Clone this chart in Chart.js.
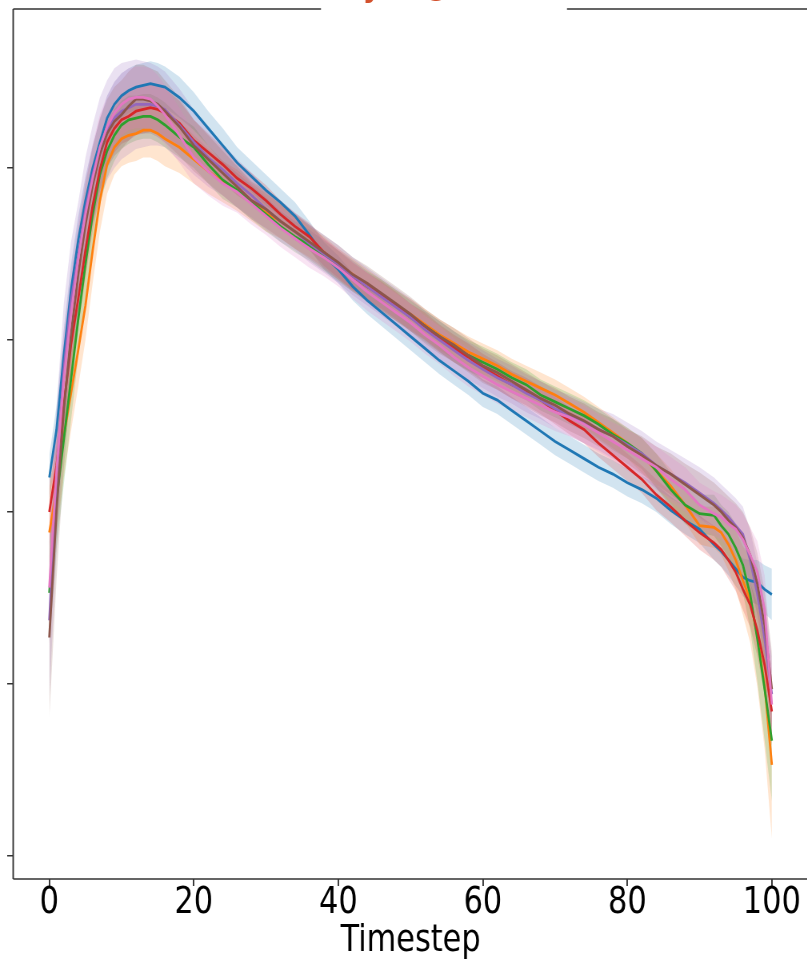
<!DOCTYPE html>
<html><head><meta charset="utf-8">
<script src="https://cdn.jsdelivr.net/npm/chart.js@4.4.1/dist/chart.umd.min.js"></script>
<style>
html,body{margin:0;padding:0;background:#fff;overflow:hidden;width:807px;height:961px;}
#wrap{position:absolute;left:0;top:0;width:1010px;height:961px;transform:scaleX(0.8);transform-origin:0 0;}
canvas{display:block;}
</style></head><body>
<div id="wrap"><canvas id="c" width="1010" height="961"></canvas></div>
<script>
const timesteps = [0,1,2,3,4,5,6,7,8,9,10,11,12,13,14,15,16,
  18,20,22,24,26,28,30,32,34,36,38,40,42,44,46,48,50,52,54,56,58,60,62,64,66,68,70,72,74,76,78,80,82,84,86,88,90,92,
  93,94,95,96,97,98,99,100];
const xTickValues = [0,20,40,60,80,100];
const yTickValues = [0,1,2,3,4];
const xLabel = 'Timestep';

const blueMean = [2.20,2.48,2.91,3.29,3.58,3.81,4.00,4.15,4.29,4.37,4.42,4.45,4.47,4.48,4.49,4.48,4.47,
  4.41,4.33,4.23,4.13,4.03,3.95,3.87,3.80,3.72,3.61, 3.49,3.41,3.31,3.23,3.16,3.09,3.02,2.95,2.88,2.82,
  2.76,2.69,2.65,2.59,2.53,2.47,2.41,2.36,2.31,2.26, 2.22,2.17,2.13,2.08,2.01,1.95,1.90,1.81,
  1.77,1.72,1.67,1.62,1.60,1.59,1.55,1.52];
const blueSd = [0.13,0.14,0.15,0.15,0.14,0.14,0.13,0.13,0.13,0.13,0.13,0.13,0.13,0.13,0.13,0.13,0.12,
  0.12,0.11,0.10,0.10,0.09,0.09,0.09,0.08,0.08,0.08, 0.08,0.08,0.08,0.08,0.08,0.08,0.08,0.08,0.08,0.08,
  0.08,0.08,0.08,0.08,0.08,0.08,0.08,0.08,0.08,0.08, 0.08,0.08,0.08,0.08,0.08,0.08,0.08,0.09,
  0.09,0.09,0.10,0.11,0.12,0.13,0.14,0.15];

const orangeMean = [1.88,2.13,2.44,2.69,2.94,3.20,3.52,3.81,4.02,4.12,4.17,4.19,4.20,4.22,4.22,4.20,4.17,
  4.12,4.05,3.98,3.92,3.87,3.80,3.74,3.69,3.63,3.57, 3.51,3.44,3.38,3.32,3.26,3.20,3.15,3.09,3.03,2.98,
  2.93,2.89,2.85,2.80,2.76,2.72,2.68,2.63,2.58,2.52, 2.46,2.40,2.33,2.24,2.15,2.04,1.92,1.91,
  1.88,1.81,1.72,1.60,1.49,1.28,0.99,0.53];
const orangeSd = [0.26,0.25,0.24,0.22,0.21,0.20,0.19,0.18,0.17,0.16,0.16,0.16,0.16,0.16,0.16,0.16,0.16,
  0.15,0.14,0.13,0.12,0.12,0.11,0.11,0.10,0.10,0.09, 0.09,0.09,0.09,0.09,0.09,0.09,0.09,0.09,0.09,0.09,
  0.09,0.09,0.09,0.09,0.09,0.09,0.09,0.09,0.09,0.09, 0.09,0.09,0.10,0.10,0.10,0.10,0.11,0.12,
  0.13,0.15,0.17,0.20,0.25,0.30,0.37,0.43];

const greenMean = [1.53,2.07,2.42,2.77,3.12,3.44,3.73,3.96,4.10,4.19,4.25,4.28,4.29,4.30,4.30,4.28,4.25,
  4.18,4.12,4.02,3.93,3.87,3.80,3.73,3.66,3.60,3.55, 3.49,3.43,3.37,3.31,3.26,3.20,3.14,3.08,3.02,2.96,
  2.91,2.87,2.83,2.78,2.74,2.68,2.64,2.60,2.56,2.51, 2.45,2.40,2.34,2.24,2.13,2.04,1.99,1.98,
  1.92,1.87,1.79,1.69,1.52,1.26,0.97,0.67];
const greenSd = [0.30,0.28,0.26,0.24,0.22,0.20,0.18,0.17,0.16,0.15,0.14,0.14,0.13,0.13,0.13,0.13,0.13,
  0.12,0.12,0.11,0.11,0.10,0.10,0.10,0.09,0.09,0.09, 0.09,0.09,0.09,0.09,0.09,0.09,0.09,0.09,0.09,0.09,
  0.09,0.09,0.09,0.09,0.09,0.09,0.09,0.09,0.09,0.09, 0.09,0.09,0.09,0.10,0.10,0.11,0.11,0.12,
  0.12,0.13,0.14,0.16,0.20,0.25,0.30,0.35];

const redMean = [2.00,2.27,2.62,2.97,3.24,3.52,3.78,3.99,4.15,4.23,4.28,4.30,4.33,4.34,4.35,4.34,4.32,
  4.26,4.16,4.09,4.02,3.94,3.88,3.81,3.73,3.66,3.60, 3.51,3.44,3.37,3.31,3.26,3.20,3.13,3.08,3.01,2.95,
  2.90,2.84,2.79,2.74,2.70,2.65,2.59,2.53,2.48,2.40, 2.33,2.26,2.19,2.10,2.03,1.95,1.88,1.82,
  1.78,1.72,1.65,1.55,1.46,1.31,1.11,0.84];
const redSd = [0.20,0.20,0.19,0.18,0.17,0.16,0.15,0.15,0.14,0.14,0.14,0.14,0.14,0.14,0.14,0.14,0.14,
  0.13,0.12,0.11,0.10,0.10,0.09,0.09,0.08,0.08,0.08, 0.08,0.08,0.08,0.08,0.08,0.08,0.08,0.08,0.08,0.08,
  0.08,0.08,0.08,0.08,0.08,0.08,0.08,0.08,0.08,0.08, 0.08,0.08,0.08,0.09,0.09,0.09,0.10,0.10,
  0.10,0.11,0.11,0.12,0.13,0.15,0.17,0.20];

const purpleMean = [1.37,2.19,2.83,3.23,3.49,3.76,3.96,4.12,4.22,4.29,4.33,4.35,4.37,4.37,4.37,4.36,4.34,
  4.25,4.15,4.06,3.99,3.91,3.84,3.76,3.69,3.63,3.56, 3.50,3.44,3.37,3.31,3.25,3.19,3.13,3.06,3.00,2.94,
  2.88,2.83,2.78,2.74,2.69,2.65,2.60,2.56,2.52,2.48, 2.44,2.39,2.34,2.27,2.22,2.17,2.11,2.05,
  2.01,1.97,1.92,1.87,1.72,1.52,1.26,0.94];
const purpleSd = [0.45,0.42,0.38,0.34,0.31,0.30,0.29,0.29,0.29,0.29,0.28,0.27,0.26,0.25,0.24,0.23,0.22,
  0.21,0.19,0.17,0.15,0.14,0.13,0.12,0.12,0.11,0.11, 0.11,0.11,0.11,0.11,0.11,0.11,0.11,0.11,0.11,0.11,
  0.11,0.11,0.11,0.11,0.11,0.11,0.11,0.12,0.12,0.12, 0.13,0.13,0.13,0.14,0.14,0.14,0.15,0.15,
  0.15,0.15,0.16,0.16,0.17,0.18,0.20,0.22];

const brownMean = [1.27,2.01,2.59,3.03,3.38,3.67,3.90,4.08,4.20,4.27,4.31,4.36,4.40,4.40,4.39,4.37,4.33,
  4.24,4.13,4.05,3.97,3.89,3.81,3.76,3.69,3.63,3.57, 3.51,3.45,3.38,3.33,3.27,3.21,3.15,3.08,3.02,2.97,
  2.91,2.85,2.81,2.76,2.71,2.66,2.62,2.57,2.53,2.48, 2.44,2.38,2.33,2.27,2.22,2.16,2.10,2.04,
  2.00,1.95,1.91,1.85,1.75,1.58,1.34,0.97];
const brownSd = [0.47,0.40,0.34,0.29,0.26,0.24,0.22,0.21,0.20,0.20,0.20,0.20,0.20,0.20,0.19,0.19,0.18,
  0.17,0.15,0.14,0.13,0.12,0.11,0.11,0.10,0.10,0.10, 0.10,0.10,0.10,0.10,0.10,0.10,0.10,0.10,0.10,0.10,
  0.10,0.10,0.10,0.10,0.10,0.10,0.10,0.10,0.10,0.10, 0.10,0.10,0.11,0.11,0.12,0.12,0.13,0.13,
  0.13,0.14,0.14,0.15,0.16,0.18,0.20,0.22];

const pinkMean = [1.56,2.24,2.77,3.15,3.47,3.73,3.94,4.12,4.24,4.32,4.37,4.40,4.41,4.41,4.40,4.36,4.31,
  4.19,4.06,3.98,3.91,3.86,3.79,3.72,3.65,3.59,3.53, 3.48,3.42,3.35,3.28,3.22,3.16,3.10,3.03,2.97,2.90,
  2.84,2.79,2.74,2.70,2.66,2.62,2.58,2.55,2.51,2.46, 2.41,2.36,2.31,2.26,2.19,2.13,2.04,1.99,
  1.97,1.93,1.90,1.84,1.75,1.65,1.43,0.88];
const pinkSd = [0.35,0.32,0.28,0.25,0.23,0.21,0.20,0.19,0.18,0.18,0.18,0.18,0.18,0.18,0.18,0.18,0.17,
  0.16,0.15,0.14,0.13,0.12,0.12,0.11,0.11,0.11,0.11, 0.11,0.11,0.11,0.11,0.11,0.11,0.11,0.11,0.11,0.11,
  0.11,0.11,0.11,0.11,0.11,0.11,0.11,0.11,0.11,0.11, 0.11,0.12,0.12,0.12,0.13,0.13,0.13,0.13,
  0.13,0.14,0.14,0.15,0.16,0.18,0.20,0.22];

const series = [
  {label:'Run 1', color:'#1f77b4', mean:blueMean,   sd:blueSd},
  {label:'Run 2', color:'#ff7f0e', mean:orangeMean, sd:orangeSd},
  {label:'Run 3', color:'#2ca02c', mean:greenMean,  sd:greenSd},
  {label:'Run 4', color:'#d62728', mean:redMean,    sd:redSd},
  {label:'Run 5', color:'#9467bd', mean:purpleMean, sd:purpleSd},
  {label:'Run 6', color:'#8c564b', mean:brownMean,  sd:brownSd},
  {label:'Run 7', color:'#e377c2', mean:pinkMean,   sd:pinkSd}
];

function rgba(hex, a){
  const n = parseInt(hex.slice(1),16);
  return `rgba(${(n>>16)&255},${(n>>8)&255},${n&255},${a})`;
}

// bands first (bottom), then the mean lines on top, each in series order
const datasets = [];
let k = 0;
series.forEach(s => {
  datasets.push({label:s.label+' lower', data:timesteps.map((t,j)=>({x:t,y:s.mean[j]-s.sd[j]})),
    borderColor:'rgba(0,0,0,0)', borderWidth:0, pointRadius:0, backgroundColor:rgba(s.color,0.2),
    fill:'+1', tension:0, order:200-(k++)});
  datasets.push({label:s.label+' upper', data:timesteps.map((t,j)=>({x:t,y:s.mean[j]+s.sd[j]})),
    borderColor:'rgba(0,0,0,0)', borderWidth:0, pointRadius:0, fill:false, tension:0, order:200-(k++)});
});
series.forEach(s => {
  datasets.push({label:s.label, data:timesteps.map((t,j)=>({x:t,y:s.mean[j]})),
    borderColor:s.color, borderWidth:2.8, pointRadius:0, fill:false, tension:0, order:200-(k++)});
});

const SX = 0.8; // horizontal compression of the reference picture
const frame = {
  id:'frame',
  afterDraw(chart){
    const {ctx, chartArea:a} = chart;
    ctx.save();
    ctx.strokeStyle = '#333';
    ctx.lineWidth = 1.5;
    ctx.beginPath();
    ctx.moveTo(a.left, a.top); ctx.lineTo(a.right, a.top);
    ctx.moveTo(a.left, a.bottom); ctx.lineTo(a.right, a.bottom);
    ctx.stroke();
    ctx.lineWidth = 1.9;
    ctx.beginPath();
    ctx.moveTo(a.left, a.top); ctx.lineTo(a.left, a.bottom);
    ctx.moveTo(a.right, a.top); ctx.lineTo(a.right, a.bottom);
    ctx.stroke();
    // cropped title area
    ctx.fillStyle = '#fff';
    ctx.fillRect(321/SX, 0, (567-321)/SX, 14);
    ctx.fillStyle = '#d3512d';
    ctx.font = 'bold 36px "DejaVu Sans"';
    ctx.textAlign = 'center';
    ctx.textBaseline = 'alphabetic';
    ctx.fillText('y', 372/SX, -4);
    ctx.fillText('g', 438/SX, -6);
    ctx.restore();
  }
};

new Chart(document.getElementById('c'), {
  type:'line',
  data:{datasets},
  plugins:[frame],
  options:{
    responsive:false, animation:false, devicePixelRatio:1,
    layout:{padding:{left:9, right:0, top:9, bottom:0}},
    plugins:{legend:{display:false}, tooltip:{enabled:false}, filler:{propagate:false}},
    scales:{
      x:{type:'linear', min:-5, max:105,
        afterBuildTicks:s=>{ s.ticks = xTickValues.map(v=>({value:v})); },
        grid:{display:true, drawOnChartArea:false, drawTicks:true, tickLength:7, color:'#333', lineWidth:1.9},
        border:{display:false},
        ticks:{padding:0, color:'#000', autoSkip:false, maxRotation:0,
          font:{family:'DejaVu Sans', size:38, lineHeight:0.9}},
        title:{display:true, text:xLabel, color:'#000',
          font:{family:'DejaVu Sans', size:38, lineHeight:1}, padding:{top:1.8, bottom:1}}
      },
      y:{type:'linear', min:-0.134, max:4.924,
        afterBuildTicks:s=>{ s.ticks = yTickValues.map(v=>({value:v})); },
        grid:{display:true, drawOnChartArea:false, drawTicks:true, tickLength:7.5, color:'#333', lineWidth:1.5},
        border:{display:false},
        ticks:{display:false}
      }
    }
  }
});
</script>
</body></html>
